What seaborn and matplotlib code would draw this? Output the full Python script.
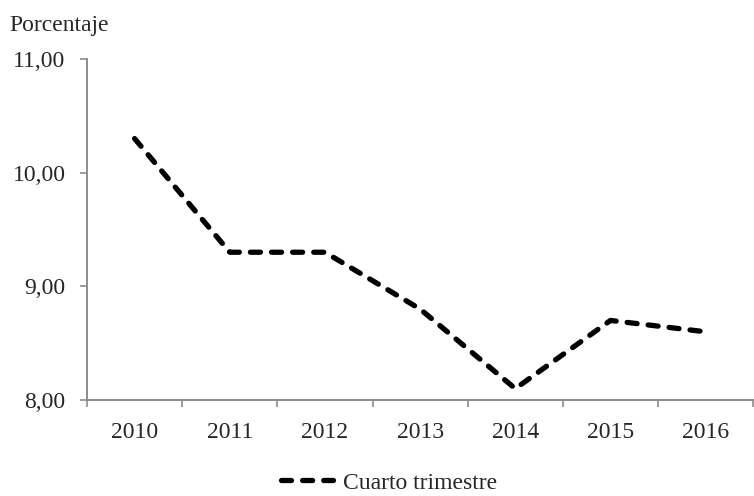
import numpy as np
import pandas as pd
import matplotlib
matplotlib.use("Agg")
import matplotlib.pyplot as plt
import seaborn as sns

# ===============================
# DATA
# ===============================
years = [2010, 2011, 2012, 2013, 2014, 2015, 2016]
valores = [10.3, 9.3, 9.3, 8.8, 8.1, 8.7, 8.6]
serie = "Cuarto trimestre"
y_ticks = [8, 9, 10, 11]

df = pd.DataFrame({"year": years, "valor": valores})

# ===============================
# STYLE
# ===============================
sns.set_style("white")
plt.rcParams["font.family"] = ["Liberation Serif", "DejaVu Serif"]
gris = "#8c8c8c"
fs = 17

fig = plt.figure(figsize=(7.54, 4.96), dpi=100)
ax = fig.add_axes([87 / 754, 1 - 400 / 496, 1 - 87 / 754 - 0.001, (400 - 59) / 496])

sns.lineplot(data=df, x="year", y="valor", ax=ax, color="black", lw=3.8,
             label=serie, legend=False)
line = ax.lines[0]
line.set_dashes((1.9, 2.1))
line.set_dash_capstyle("round")
line.set_solid_joinstyle("round")

ax.set_xlim(years[0] - 0.5, years[-1] + 0.5)
ax.set_ylim(8, 11)
ax.set_yticks(y_ticks)
ax.set_yticklabels([f"{v:.2f}".replace(".", ",") for v in y_ticks], fontsize=fs)
ax.set_xticks(years)
ax.set_xticklabels([str(y) for y in years], fontsize=fs)
ax.set_xticks(np.arange(years[0] - 0.5, years[-1] + 1.0, 1.0), minor=True)
ax.tick_params(axis="x", which="major", length=0, pad=15.5)
ax.tick_params(axis="x", which="minor", length=5, width=1.2, color=gris, direction="out", bottom=True)
ax.tick_params(axis="y", which="major", length=5, width=1.2, color=gris, direction="out", left=True, pad=10.5)
ax.set_xlabel("")
ax.set_ylabel("")

for s in ["top", "right"]:
    ax.spines[s].set_visible(False)
for s in ["left", "bottom"]:
    ax.spines[s].set_color(gris)
    ax.spines[s].set_linewidth(1.4)

fig.text(9 / 754, 1 - 31 / 496, "Porcentaje", fontsize=fs, va="baseline", ha="left")

fig.legend(handles=[line], labels=[serie], loc="center",
           bbox_to_anchor=(389 / 754, 1 - 483 / 496), frameon=False,
           fontsize=fs, handlelength=2.2, handletextpad=0.45,
           borderaxespad=0, borderpad=0.2)

fig.savefig("out.png", dpi=100)
